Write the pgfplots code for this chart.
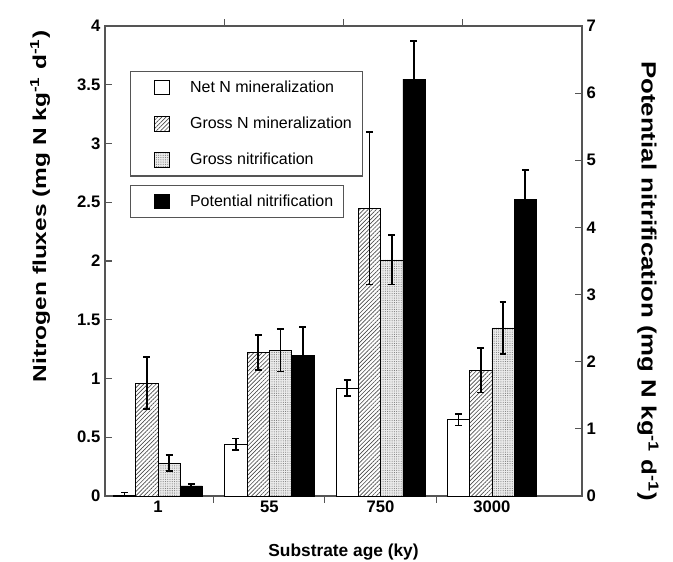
\documentclass[border=0pt]{standalone}
\usepackage{pgfplots}
\pgfplotsset{compat=1.18}
\usepackage{fontspec}
\setmainfont{Liberation Sans}
\usetikzlibrary{patterns.meta}
\definecolor{framegray}{RGB}{85,85,85}
\begin{document}
\begin{tikzpicture}
\useasboundingbox (-78.75pt,-48.75pt) rectangle (426pt,372pt);
\pgfplotsset{
  every axis/.append style={
    scale only axis, width=357.75pt, height=352.5pt,
    xmin=-0.476, xmax=3.81, ymin=0,
    axis line style={framegray, line width=0.8pt},
    tick style={framegray, line width=0.8pt},
    tick align=inside,
    /pgf/number format/assume math mode=true,
    every tick label/.append style={font=\fontsize{12.5}{14}\selectfont\bfseries},
  },
  errstyle/.style={error bars/.cd, y dir=both, y explicit,
    error bar style={black, line width=1.3pt},
    error mark options={rotate=90, mark size=2.6pt, line width=1.3pt, black}},
  legimg/.style={legend image code/.code={
    \path (-12pt,0pt) (24pt,0pt);
    \draw[##1, line width=0.6pt] (0pt,-5.5pt) rectangle (11pt,5.5pt);}},
  myleg/.style={legend cell align=left,
    legend style={draw=framegray, line width=0.8pt, font=\fontsize{12}{14}\selectfont,
      inner xsep=6pt, inner ysep=5pt, row sep=13pt}},
}
\begin{axis}[
  ymax=4,
  ytick={0,0.5,...,4},
  yticklabels={\bfseries 0,\bfseries 0.5,\bfseries 1,\bfseries 1.5,\bfseries 2,\bfseries 2.5,\bfseries 3,\bfseries 3.5,\bfseries 4},
  ytick pos=left,
  xtick={0.5,1.5,2.5}, xticklabels={},
  extra x ticks={0,1,2,3},
  extra x tick labels={\bfseries 1,\bfseries 55,\bfseries 750,\bfseries 3000},
  extra x tick style={major tick length=0pt},
  xtick pos=left,
  major tick length=5pt,
  xlabel={\bfseries Substrate age (ky)},
  ylabel={\bfseries Nitrogen fluxes (mg N kg\textsuperscript{-1} d\textsuperscript{-1})},
  x label style={at={(axis description cs:0.5,-0.119)}, anchor=center, font=\fontsize{13}{15}\selectfont},
  y label style={at={(axis description cs:-0.136,0.616)}, anchor=center, xscale=1.31, font=\fontsize{14}{16}\selectfont},
  myleg,
  legend style={at={(axis description cs:0.052,0.905)}, anchor=north west},
  ybar, bar width=0.2,
]
\addplot[ybar, bar shift=-0.3, draw=black, fill=white, legimg, errstyle]
  coordinates {(0,0.01) +- (0,0.02) (1,0.44) +- (0,0.05) (2,0.92) +- (0,0.07) (3,0.65) +- (0,0.05)};
\addlegendentry{Net N mineralization}
\addplot[ybar, bar shift=-0.1, draw=black, fill=white,
  postaction={pattern={Lines[angle=45,distance=2.2pt,line width=0.5pt]}, pattern color=black!70}, legimg, errstyle]
  coordinates {(0,0.96) +- (0,0.22) (1,1.22) +- (0,0.15) (2,2.45) +- (0,0.65) (3,1.07) +- (0,0.19)};
\addlegendentry{Gross N mineralization}
\addplot[ybar, bar shift=0.1, draw=black, fill=black!8,
  postaction={pattern={Dots[distance=1.7pt,radius=0.4pt]}, pattern color=black!55}, legimg, errstyle]
  coordinates {(0,0.28) +- (0,0.07) (1,1.24) +- (0,0.18) (2,2.01) +- (0,0.21) (3,1.43) +- (0,0.22)};
\addlegendentry{Gross nitrification}
\end{axis}
\begin{axis}[
  ymax=7,
  axis y line*=right,
  axis x line*=top,
  ytick={0,1,...,7},
  yticklabels={\bfseries 0,\bfseries 1,\bfseries 2,\bfseries 3,\bfseries 4,\bfseries 5,\bfseries 6,\bfseries 7},
  major tick length=5pt,
  xtick={0.6,1.67,2.74}, xticklabels={},
  ylabel={\bfseries Potential nitrification (mg N kg\textsuperscript{-1} d\textsuperscript{-1})},
  y label style={at={(axis description cs:1.138,0.457)}, anchor=center, rotate=180, xscale=1.25, font=\fontsize{15.5}{17}\selectfont},
  myleg,
  legend style={at={(axis description cs:0.052,0.662)}, anchor=north west},
  ybar, bar width=0.2,
]
\addplot[ybar, bar shift=0.3, draw=black, fill=black, legimg, errstyle]
  coordinates {(0,0.15) +- (0,0.03) (1,2.10) +- (0,0.42) (2,6.21) +- (0,0.57) (3,4.42) +- (0,0.43)};
\addlegendentry{Potential nitrification}
\end{axis}
\end{tikzpicture}
\end{document}
